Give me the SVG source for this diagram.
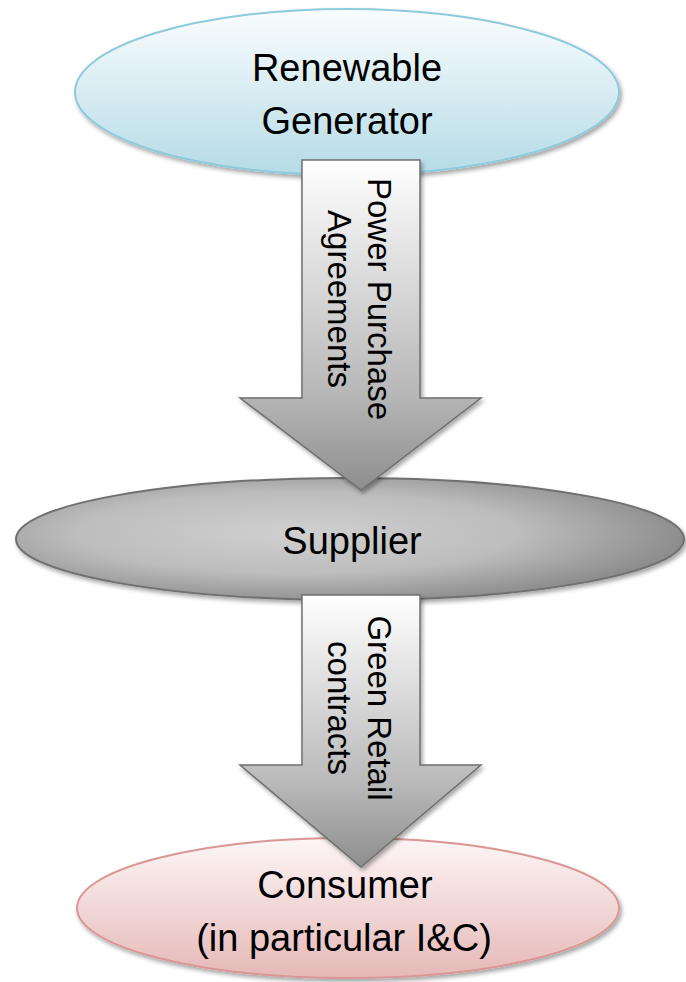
<svg xmlns="http://www.w3.org/2000/svg" width="686" height="982" viewBox="0 0 686 982">
<defs>
<linearGradient id="gBlue" x1="0" y1="0" x2="0" y2="1">
<stop offset="0" stop-color="#fafdfe"/>
<stop offset="1" stop-color="#b5dbe6"/>
</linearGradient>
<radialGradient id="gGray" cx="0.42" cy="0.45" r="0.6">
<stop offset="0" stop-color="#d0d0d0"/>
<stop offset="0.55" stop-color="#bdbdbd"/>
<stop offset="1" stop-color="#8a8a8a"/>
</radialGradient>
<linearGradient id="gRed" x1="0" y1="0" x2="0" y2="1">
<stop offset="0" stop-color="#fdf6f6"/>
<stop offset="1" stop-color="#e5b8b7"/>
</linearGradient>
<linearGradient id="gArrow" x1="0" y1="0" x2="0" y2="1">
<stop offset="0" stop-color="#ffffff"/>
<stop offset="0.7" stop-color="#b8b8b8"/>
<stop offset="1" stop-color="#8e8e8e"/>
</linearGradient>
<filter id="shadow" x="-10%" y="-10%" width="125%" height="130%">
<feDropShadow dx="2" dy="3" stdDeviation="2" flood-color="#000" flood-opacity="0.35"/>
</filter>
</defs>
<style>
.lbl{font-family:"Liberation Sans",Arial,sans-serif;font-size:38px;fill:#000;text-anchor:middle}
.albl{font-family:"Liberation Sans",Arial,sans-serif;font-size:33px;fill:#000;text-anchor:middle}
.arrow{fill:url(#gArrow);stroke:#6f6f6f;stroke-width:1.5;filter:url(#shadow)}
</style>
<g id="renewable-generator">
<ellipse cx="347" cy="92" rx="272" ry="83" fill="url(#gBlue)" stroke="#8dcadb" stroke-width="2" filter="url(#shadow)"/>
<text class="lbl" x="347" y="81">Renewable</text>
<text class="lbl" x="347" y="134">Generator</text>
</g>
<g id="supplier">
<ellipse cx="350" cy="539" rx="334" ry="61" fill="url(#gGray)" stroke="#6f6f6f" stroke-width="2" filter="url(#shadow)"/>
<text class="lbl" x="352" y="554">Supplier</text>
</g>
<g id="consumer">
<ellipse cx="348" cy="908" rx="271" ry="70" fill="url(#gRed)" stroke="#d99694" stroke-width="2" filter="url(#shadow)"/>
<text class="lbl" x="345" y="898">Consumer</text>
<text class="lbl" x="344" y="951">(in particular I&amp;C)</text>
</g>
<g id="connectors">
<g id="arrow-ppa">
<path class="arrow" d="M302,160 H420 V398 H481 L361,490 L240,398 H302 Z"/>
<g transform="translate(360,299) rotate(90)">
<text class="albl" x="0" y="-8">Power Purchase</text>
<text class="albl" x="0" y="32">Agreements</text>
</g>
</g>
<g id="arrow-green">
<path class="arrow" d="M302,595 H420 V765 H481 L361,867 L240,765 H302 Z"/>
<g transform="translate(360,708) rotate(90)">
<text class="albl" x="0" y="-8">Green Retail</text>
<text class="albl" x="0" y="32">contracts</text>
</g>
</g>
</g>
</svg>
